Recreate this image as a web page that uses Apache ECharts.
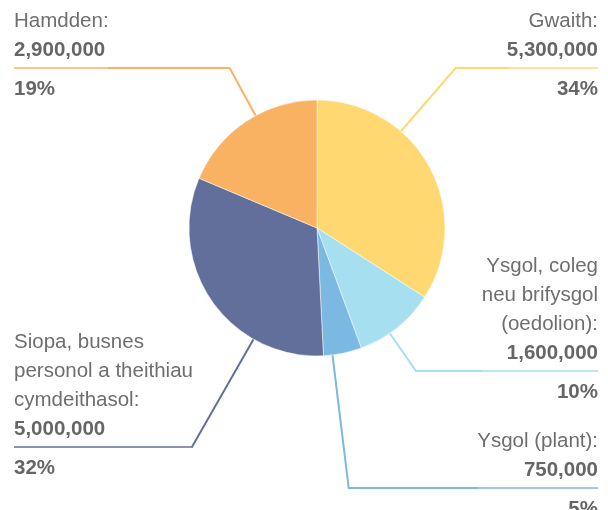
<!DOCTYPE html>
<html>
<head>
<meta charset="utf-8">
<script src="https://cdn.jsdelivr.net/npm/echarts@6/dist/echarts.min.js"></script>
<style>
  html, body { margin: 0; padding: 0; background: #fff; }
  #chart { width: 608px; height: 510px; }
</style>
</head>
<body>
<div id="chart"></div>
<script>
// categories (line breaks as in the picture), values and slice colours
const categories = [
  'Gwaith',
  'Ysgol, coleg\nneu brifysgol\n(oedolion)',
  'Ysgol (plant)',
  'Siopa, busnes\npersonol a theithiau\ncymdeithasol',
  'Hamdden'
];
const values = [5300000, 1600000, 750000, 5000000, 2900000];
const colors = ['#ffd872', '#a6dff0', '#7bb8e2', '#626f9b', '#f9b262'];

// pie geometry and label metrics (page layout, not data)
const CX = 317, CY = 228, R = 128;
const LH = 29;   // text line height above the rule
const HR = 6;    // line box of the rule
const PLH = 37;  // line box of the percentage under the rule
const ruleY = [68, 371, 488, 447, 68];

function labelText(p) {
  const parts = p.name.split('\n');
  const head = parts.map((s, i) => '{t|' + s + (i === parts.length - 1 ? ':' : '') + '}');
  return head.join('\n') +
    '\n{v|' + p.value.toLocaleString('en-US') + '}' +
    '\n{hr|}' +
    '\n{p|' + Math.round(p.percent) + '%}';
}

const chart = echarts.init(document.getElementById('chart'));

chart.setOption({
  animation: false,
  color: colors,
  series: [{
    type: 'pie',
    left: 4,
    right: 0,
    top: 0,
    bottom: 0,
    center: [CX - 4, CY],
    radius: R,
    startAngle: 90,
    clockwise: true,
    itemStyle: { borderColor: '#fff', borderWidth: 0.5 },
    label: {
      show: true,
      position: 'outside',
      alignTo: 'edge',
      edgeDistance: 10,
      distanceToLabelLine: -2,
      formatter: labelText,
      rich: {
        t: { fontSize: 20.5, lineHeight: LH, color: '#6e6e6e', fontFamily: 'Liberation Sans' },
        v: { fontSize: 20.5, lineHeight: LH, color: '#666', fontWeight: 'bold', fontFamily: 'Liberation Sans' },
        hr: { width: '100%', height: 0, lineHeight: HR, borderWidth: 1 },
        p: { fontSize: 20.5, lineHeight: PLH, color: '#666', fontWeight: 'bold', fontFamily: 'Liberation Sans' }
      }
    },
    labelLine: {
      show: true,
      length: 30,
      length2: -80,
      lineStyle: { width: 2 }
    },
    // rule inside the text sits on the leader line; leader leaves the pie towards its knee
    labelLayout: function (p) {
      const pts = p.labelLinePoints;
      if (!pts) return {};
      const n = categories[p.dataIndex].split('\n').length + 1;
      const y = ruleY[p.dataIndex];
      const kx = pts[1][0];
      const dx = kx - CX, dy = y - CY, d = Math.hypot(dx, dy);
      return {
        y: y - (n * LH - PLH) / 2,
        labelLinePoints: [[CX + R * dx / d, CY + R * dy / d], [kx, y], [pts[2][0], y]]
      };
    },
    data: categories.map((name, i) => ({
      name: name,
      value: values[i],
      label: { rich: { hr: { borderColor: colors[i] } } }
    }))
  }]
});
</script>
</body>
</html>
